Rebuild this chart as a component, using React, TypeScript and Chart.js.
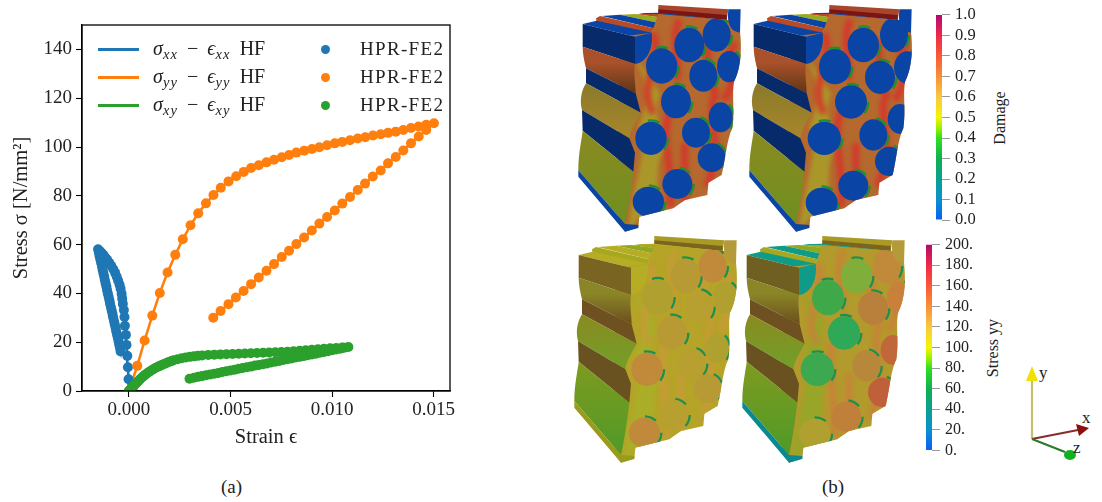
import React, { useEffect, useRef } from "react";
import { Chart, registerables } from "chart.js";

Chart.register(...registerables);

const SERIF = "'Liberation Serif', serif";

// ---- Stress / strain data ----
const blueStrain = [0, -0.00002, -0.00005, -0.00008, -0.00012, -0.00015, -0.0002, -0.00022, -0.00025, -0.0003, -0.00033, -0.00036, -0.00041, -0.00046, -0.00053, -0.0006, -0.00068, -0.00077, -0.00087, -0.00097, -0.00107, -0.00117, -0.00126, -0.00136, -0.00145, -0.00152, -0.00148, -0.00145, -0.00141, -0.00137, -0.00133, -0.0013, -0.00126, -0.00122, -0.00119, -0.00115, -0.00111, -0.00108, -0.00104, -0.001, -0.00096, -0.00093, -0.00089, -0.00085, -0.00081, -0.00078, -0.00074, -0.0007, -0.00066, -0.00063, -0.00059, -0.00055, -0.00051, -0.00048, -0.00044, -0.00041];
const blueStress = [0, 4.8, 9.7, 14.4, 18.9, 23, 26.7, 30.3, 33.2, 35.7, 37.8, 39.8, 41.9, 43.5, 45.2, 46.8, 48.4, 49.9, 51.3, 52.5, 53.8, 54.8, 55.8, 56.7, 57.5, 58.1, 56.8, 55.4, 54, 52.6, 51.2, 49.8, 48.4, 47, 45.6, 44.2, 42.8, 41.4, 40, 38.6, 37.2, 35.8, 34.4, 33, 31.6, 30.2, 28.8, 27.4, 26, 24.6, 23.2, 21.8, 20.4, 19, 17.6, 16.2];

const orangeStrain = [0, 0.00041, 0.00077, 0.00115, 0.00152, 0.0019, 0.00228, 0.00265, 0.00303, 0.00341, 0.00379, 0.00416, 0.00452, 0.0049, 0.00528, 0.00565, 0.00601, 0.00639, 0.00677, 0.00714, 0.00752, 0.00788, 0.00824, 0.00863, 0.00901, 0.00937, 0.00975, 0.01013, 0.0105, 0.01088, 0.01126, 0.01163, 0.01201, 0.01239, 0.01275, 0.01313, 0.0135, 0.01388, 0.01425, 0.01463, 0.01501, 0.01463, 0.01426, 0.01388, 0.0135, 0.01313, 0.01275, 0.01239, 0.012, 0.01162, 0.01126, 0.01088, 0.0105, 0.01013, 0.00975, 0.00937, 0.009, 0.00862, 0.00824, 0.00788, 0.00752, 0.00714, 0.00677, 0.00639, 0.00601, 0.00564, 0.00526, 0.0049, 0.00451, 0.00415];
const orangeStress = [0, 10.3, 20.7, 30.9, 40.2, 48.6, 55.8, 62.2, 67.9, 72.8, 76.9, 80.3, 83.3, 85.9, 88, 89.8, 91.4, 92.5, 93.7, 94.8, 95.8, 96.7, 97.7, 98.5, 99.2, 99.9, 100.7, 101.5, 102.1, 102.8, 103.5, 104, 104.7, 105.2, 105.8, 106.3, 107, 107.8, 108.4, 109.1, 109.7, 107, 104.3, 101.5, 98.6, 95.9, 93.3, 90.4, 87.9, 85, 82.4, 79.5, 76.8, 74, 71.3, 68.6, 65.8, 62.9, 60.2, 57.5, 54.9, 52, 49.3, 46.5, 43.8, 41, 38.3, 35.6, 32.8, 30];

const greenStrain = [0, 0.00008, 0.00016, 0.00024, 0.00032, 0.0004, 0.00048, 0.00056, 0.00064, 0.00072, 0.0008, 0.0009, 0.001, 0.0011, 0.0012, 0.0013, 0.0014, 0.0015, 0.0016, 0.0017, 0.0018, 0.0019, 0.002, 0.0021, 0.0022, 0.0024, 0.0026, 0.0028, 0.003, 0.0032, 0.0034, 0.0036, 0.0039, 0.0042, 0.0045, 0.0048, 0.0051, 0.0054, 0.0057, 0.006, 0.0063, 0.0066, 0.0069, 0.0072, 0.0075, 0.0078, 0.0081, 0.0084, 0.0087, 0.009, 0.0093, 0.0096, 0.0099, 0.0102, 0.0105, 0.0108, 0.0106, 0.0104, 0.0102, 0.01, 0.0098, 0.0096, 0.0094, 0.0092, 0.009, 0.0088, 0.0086, 0.0084, 0.0082, 0.008, 0.0078, 0.0076, 0.0074, 0.0072, 0.007, 0.0068, 0.0066, 0.0064, 0.0062, 0.006, 0.0058, 0.0056, 0.0054, 0.0052, 0.005, 0.0048, 0.0046, 0.0044, 0.0042, 0.004, 0.0038, 0.0036, 0.0034, 0.0032, 0.00298];
const greenStress = [0, 0.7, 1.4, 2.1, 2.9, 3.5, 4.2, 4.9, 5.5, 6.1, 6.7, 7.3, 7.9, 8.4, 8.9, 9.4, 9.8, 10.2, 10.6, 11, 11.3, 11.7, 12, 12.3, 12.6, 13, 13.4, 13.7, 14, 14.2, 14.4, 14.6, 14.8, 14.9, 15, 15.1, 15.2, 15.3, 15.4, 15.5, 15.6, 15.7, 15.8, 15.9, 16, 16.1, 16.3, 16.5, 16.7, 16.9, 17.1, 17.3, 17.5, 17.6, 17.8, 18, 17.7, 17.3, 17, 16.7, 16.3, 16, 15.7, 15.3, 15, 14.7, 14.3, 14, 13.7, 13.3, 13, 12.7, 12.3, 12, 11.7, 11.3, 11, 10.7, 10.4, 10, 9.7, 9.4, 9.1, 8.7, 8.4, 8.1, 7.8, 7.4, 7.1, 6.8, 6.5, 6.1, 5.8, 5.4, 5];

const strainTicks = [0, 0.005, 0.01, 0.015];
const seriesColors = ["#1f77b4", "#ff7f0e", "#2ca02c"];
const seriesSubscripts = ["xx", "yy", "xy"];
const markerLabel = "HPR-FE2";

// ---- Colour bars ----
const damageRange = [0, 1];
const damageStep = 0.1;
const stressRange = [0, 200];
const stressStep = 20;
const rampStops = [0, 0.1, 0.2, 0.3, 0.4, 0.45, 0.5, 0.6, 0.7, 0.8, 0.9, 1];
const rampColors = ["#0a5ff5", "#0a90d0", "#0aa090", "#10b050", "#30e020", "#a0f000", "#f5f500", "#f8c840", "#f89038", "#f85838", "#f02848", "#b00a70"];

const zip = (xs: number[], ys: number[]) => xs.map((x, i) => ({ x, y: ys[i] }));

const frame = {
  id: "frame",
  afterDraw(chart: any) {
    const { ctx, chartArea: a } = chart;
    ctx.save();
    ctx.strokeStyle = "#000";
    ctx.lineWidth = 1.3;
    ctx.strokeRect(a.left, a.top, a.right - a.left, a.bottom - a.top);
    ctx.restore();
  },
};

function StressChart() {
  const ref = useRef<HTMLCanvasElement>(null);
  useEffect(() => {
    const sets = [
      [blueStrain, blueStress],
      [orangeStrain, orangeStress],
      [greenStrain, greenStress],
    ];
    const lines = sets.map(([xs, ys], i) => ({
      label: `HF ${seriesSubscripts[i]}`,
      data: zip(xs, ys),
      showLine: true,
      borderColor: seriesColors[i],
      backgroundColor: seriesColors[i],
      borderWidth: 2.6,
      pointRadius: 0,
      order: 6 - i,
    }));
    const markers = sets.map(([xs, ys], i) => ({
      label: markerLabel,
      data: zip(xs, ys),
      showLine: false,
      backgroundColor: seriesColors[i],
      borderWidth: 0,
      pointRadius: 5,
      order: 3 - i,
    }));
    const chart = new Chart(ref.current!, {
      type: "scatter",
      data: { datasets: [...lines, ...markers] as any },
      plugins: [frame],
      options: {
        animation: false,
        responsive: false,
        layout: { padding: { top: 25, right: 20, left: 0, bottom: 0 } },
        plugins: { legend: { display: false }, tooltip: { enabled: false } },
        scales: {
          x: {
            type: "linear",
            min: -0.00231,
            max: 0.0158,
            afterFit: (s: any) => { s.height = 59; },
            afterBuildTicks: (s: any) => { s.ticks = strainTicks.map((value) => ({ value })); },
            grid: { drawOnChartArea: false, tickLength: 6, color: "#000", tickWidth: 1.1 },
            border: { color: "#000", width: 1.3 },
            ticks: { color: "#222", font: { family: SERIF, size: 19 }, padding: 2, maxRotation: 0, callback: (v: any) => Number(v).toFixed(3) },
            title: { display: true, text: "Strain ϵ", color: "#222", font: { family: SERIF, size: 20.5 }, padding: { top: 0, bottom: 0 } },
          },
          y: {
            type: "linear",
            min: 0,
            max: 150,
            afterFit: (s: any) => { s.width = 82; },
            afterBuildTicks: (s: any) => { s.ticks = [0, 20, 40, 60, 80, 100, 120, 140].map((value) => ({ value })); },
            grid: { drawOnChartArea: false, tickLength: 6, color: "#000", tickWidth: 1.1 },
            border: { color: "#000", width: 1.3 },
            ticks: { color: "#222", font: { family: SERIF, size: 19 }, padding: 4 },
            title: { display: true, text: "Stress σ [N/mm²]", color: "#222", font: { family: SERIF, size: 20.5 }, padding: { top: 9, bottom: 9 } },
          },
        },
      },
    } as any);
    return () => chart.destroy();
  }, []);
  return <canvas ref={ref} width={470} height={450} style={{ position: "absolute", left: 0, top: 0 }} />;
}

function ColorBar(props: { left: number; top: number; range: number[]; step: number; fmt: (v: number) => string; size: number; name: string }) {
  const ref = useRef<HTMLCanvasElement>(null);
  useEffect(() => {
    const gradient = (ctx: any) => {
      const a = ctx.chart.chartArea;
      if (!a) return "#888";
      const g = ctx.chart.ctx.createLinearGradient(0, a.bottom, 0, a.top);
      rampStops.forEach((s, i) => g.addColorStop(s, rampColors[i]));
      return g;
    };
    const chart = new Chart(ref.current!, {
      type: "bar",
      data: {
        labels: [props.name],
        datasets: [{ data: [props.range], backgroundColor: gradient, borderWidth: 0, barPercentage: 1, categoryPercentage: 1, inflateAmount: 0 }],
      },
      options: {
        animation: false,
        responsive: false,
        layout: { padding: { top: 13, bottom: 11, left: 6, right: 0 } },
        plugins: { legend: { display: false }, tooltip: { enabled: false } },
        scales: {
          x: { display: false },
          y: {
            position: "right",
            min: props.range[0],
            max: props.range[1],
            afterFit: (s: any) => { s.width = 58; },
            ticks: { stepSize: props.step, autoSkip: false, color: "#222", font: { family: SERIF, size: props.size }, padding: 5, callback: (v: any) => props.fmt(Number(v)) },
            grid: { drawOnChartArea: false, tickLength: 8, color: "#999", tickWidth: 1 },
            border: { display: false },
          },
        },
      },
    } as any);
    return () => chart.destroy();
  }, []);
  return <canvas ref={ref} width={70} height={235} style={{ position: "absolute", left: props.left, top: props.top }} />;
}

// ---- Simplified illustration of the 3D renders (not chart data) ----
type Pal = { band1: string; band2a: string; band2b: string; band3: string; band4a: string; band4b: string; band5: string; band6a: string; band6b: string; base: string; topA: string; topB: string; topC: string; back1: string; back2: string; tip: string; face: string; patch: string; streak: string; edge: string; };

const topPal: Pal = { band1: "#072a6a", band2a: "#a8512a", band2b: "#5f3515", band3: "#072a6a", band4a: "#8a7a2a", band4b: "#a8862a", band5: "#072a6a", band6a: "#8a8a20", band6b: "#6f8f20", base: "#0a45a5", topA: "#0a45a5", topB: "#b84a25", topC: "#9aaa20", back1: "#a8452a", back2: "#7a1515", tip: "#0a45a5", face: "#b5692e", patch: "#a8a028", streak: "#d8302c", edge: "#1f8f30" };
const botPalA: Pal = { band1: "#7a6422", band2a: "#8a8526", band2b: "#6a4e1e", band3: "#6f5020", band4a: "#8a8a20", band4b: "#70a028", band5: "#6a5220", band6a: "#7f9a20", band6b: "#4f9a28", base: "#9a9a1c", topA: "#b5ad24", topB: "#a8a820", topC: "#8fa820", back1: "#a89a24", back2: "#7a6420", tip: "#b59a3a", face: "#b5a428", patch: "#a8b028", streak: "#c89a38", edge: "#1f8f50" };
const botPalB: Pal = { ...botPalA, band1: "#6f5f20", base: "#0a8a90", topA: "#109a88", face: "#b39a2c", streak: "#c9803a", patch: "#92a828" };

const faceStreaks = [
  "M250 100 C280 180 200 260 250 340",
  "M300 330 C270 420 310 480 300 620",
  "M345 430 C340 500 350 550 345 610",
  "M410 120 C420 180 400 230 440 280",
  "M440 280 C400 330 470 420 410 560",
  "M500 130 C450 160 520 230 460 300",
  "M330 60 C300 100 330 180 320 240",
];

type Circle = [number, number, number, number, string?];

const circlesA: Circle[] = [[275, 198, 47, 53], [358, 135, 45, 52], [440, 105, 42, 50], [400, 227, 42, 48], [478, 200, 37, 47], [318, 305, 45, 50], [243, 415, 47, 50], [378, 398, 42, 45], [452, 352, 36, 45], [425, 473, 42, 43], [235, 605, 47, 45], [322, 552, 45, 45]];
const circlesB: Circle[] = [[282, 200, 48, 53], [367, 135, 47, 52], [459, 105, 42, 52], [417, 232, 45, 50], [499, 202, 40, 48], [330, 306, 48, 50], [250, 415, 50, 50], [397, 405, 42, 47], [477, 357, 37, 45], [445, 484, 43, 44], [242, 608, 48, 45], [337, 557, 45, 45]];

const blue = "#0a45a5";
const withFill = (cs: Circle[], fills: string[]) => cs.map((c, i) => [c[0], c[1], c[2], c[3], fills[i % fills.length]] as Circle);

function Block({ id, dx, dy, p, circles }: { id: string; dx: number; dy: number; p: Pal; circles: Circle[] }) {
  const faceD = "M150 110 L245 98 L265 42 L475 60 L510 95 C515 140 515 200 492 245 C485 280 495 330 487 385 C470 420 468 470 455 525 L415 548 L412 585 L345 600 L310 625 L208 650 L205 682 L165 695 L140 640 Z";
  return (
    <g transform={`translate(${570 + dx} ${dy}) scale(${1 / 3})`}>
      <defs>
        <clipPath id={`clip-${id}`}><path d={faceD} /></clipPath>
        <linearGradient id={`b2-${id}`} x1="0" y1="0" x2="0" y2="1"><stop offset="0" stopColor={p.band2a} /><stop offset="0.35" stopColor={p.band2a} /><stop offset="1" stopColor={p.band2b} /></linearGradient>
        <linearGradient id={`b4-${id}`} x1="0" y1="0" x2="0" y2="1"><stop offset="0" stopColor={p.band4a} /><stop offset="1" stopColor={p.band4b} /></linearGradient>
        <linearGradient id={`b6-${id}`} x1="0" y1="0" x2="0" y2="1"><stop offset="0" stopColor={p.band6a} /><stop offset="1" stopColor={p.band6b} /></linearGradient>
      </defs>
      <path d="M265 15 L475 28 L470 60 L265 40Z" fill={p.back1} />
      <path d="M265 28 L470 45 L470 60 L265 40Z" fill={p.back2} />
      <path d="M205 40 L265 38 L470 60 L400 65Z" fill={p.topA} />
      <path d="M195 42 L265 42 L400 62 L385 68Z" fill={p.topB} />
      <path d="M150 44 L195 42 L385 66 L310 78Z" fill={p.topC} />
      <path d="M95 48 L150 44 L310 78 L250 85Z" fill={p.topA} />
      <path d="M78 55 L90 48 L250 85 L245 105 L80 68Z" fill={p.topB} />
      <path d="M38 72 L80 62 L245 98 L195 110Z" fill={p.topA} />
      <path d={faceD} fill={p.face} />
      <g clipPath={`url(#clip-${id})`}>
        <path d="M195 180 C240 250 240 300 205 380 C240 440 190 540 175 690 L260 600 C270 520 250 470 300 440 C260 380 250 330 270 280 C240 240 230 200 195 180Z" fill={p.patch} opacity={0.85} style={{ filter: "blur(6px)" }} />
        {faceStreaks.map((d, i) => (
          <path key={i} d={d} fill="none" stroke={p.streak} strokeWidth={22} opacity={0.8} style={{ filter: "blur(6px)" }} />
        ))}
        {circles.map((c, i) => (
          <ellipse key={i} cx={c[0]} cy={c[1]} rx={c[2] + 4} ry={c[3] + 4} fill="none" stroke={p.edge} strokeWidth={7} strokeDasharray="36 200" style={{ filter: "blur(2px)" }} />
        ))}
        {circles.map((c, i) => (
          <ellipse key={i} cx={c[0]} cy={c[1]} rx={c[2]} ry={c[3]} fill={c[4] ?? blue} />
        ))}
      </g>
      <path d="M475 28 L512 28 L510 98 C480 95 470 70 475 28Z" fill={p.tip} />
      <path d="M195 110 L245 98 C250 140 235 185 195 192Z" fill={p.topA} />
      <path d="M38 72 L195 110 L195 192 L38 140Z" fill={p.band1} />
      <path d="M38 140 L195 192 C190 220 197 250 197 280 L48 205 C42 180 38 160 38 140Z" fill={`url(#b2-${id})`} />
      <path d="M48 205 L197 280 L212 338 L48 250Z" fill={p.band3} />
      <path d="M48 250 L212 338 C200 360 180 390 178 415 L36 330 C28 300 35 270 48 250Z" fill={`url(#b4-${id})`} />
      <path d="M36 330 L178 415 L195 458 L190 515 L38 392Z" fill={p.band5} />
      <path d="M38 392 L190 515 C185 560 175 630 165 672 L25 510 C25 460 35 420 38 392Z" fill={`url(#b6-${id})`} />
      <path d="M25 510 L165 672 L205 675 L205 684 L165 695 L25 530Z" fill={p.base} />
    </g>
  );
}

function Renders() {
  return (
    <svg width={1102} height={502} style={{ position: "absolute", left: 0, top: 0 }}>
      <Block id="t1" dx={0} dy={0} p={topPal} circles={circlesA} />
      <Block id="t2" dx={171} dy={0} p={topPal} circles={circlesB} />
      <Block id="b1" dx={-4} dy={231} p={botPalA} circles={withFill(circlesA, ["#b0a030", "#b89a34", "#c08a3a", "#b8a030"])} />
      <Block id="b2" dx={164} dy={231} p={botPalB} circles={withFill(circlesB, ["#3fa848", "#7fae3a", "#c08a3a", "#b8803a", "#c8803a", "#2fa858", "#3ca850", "#b8883a", "#c0683a", "#c0603a", "#b0a030", "#c0803a"])} />
      {/* orientation triad */}
      <line x1={1032} y1={439} x2={1032} y2={375} stroke="#c8c068" strokeWidth={2.2} />
      <polygon points="1026,381 1038,381 1032,366" fill="#f2e000" />
      <line x1={1032} y1={439} x2={1078} y2={430} stroke="#8a2a2a" strokeWidth={2} />
      <polygon points="1076,424 1079,436 1089,428" fill="#8a1010" />
      <line x1={1032} y1={439} x2={1065} y2={452} stroke="#2a7a2a" strokeWidth={2} />
      <ellipse cx={1070} cy={455} rx={6} ry={5} fill="#10b020" />
      <text x={1039} y={378} fontFamily={SERIF} fontSize={17} fill="#222">y</text>
      <text x={1082} y={423} fontFamily={SERIF} fontSize={17} fill="#222">x</text>
      <text x={1073} y={453} fontFamily={SERIF} fontSize={17} fill="#222">z</text>
      <text transform="rotate(-90 1000 118)" x={1000} y={123} textAnchor="middle" fontFamily={SERIF} fontSize={16} fill="#222">Damage</text>
      <text transform="rotate(-90 993 348)" x={993} y={353} textAnchor="middle" fontFamily={SERIF} fontSize={16} fill="#222">Stress yy</text>
    </svg>
  );
}

const label = (left: number, top: number, extra: any = {}) => ({ position: "absolute" as const, left, top, fontFamily: SERIF, fontSize: 19, lineHeight: "22px", color: "#222", whiteSpace: "nowrap" as const, ...extra });
const sub = { fontSize: 14.5, fontStyle: "italic", position: "relative" as const, top: 4, letterSpacing: "0.08em" };

function Legend() {
  const rows = [49, 77, 105];
  return (
    <>
      {seriesSubscripts.map((s, i) => (
        <React.Fragment key={s}>
          <div style={{ position: "absolute", left: 98, top: rows[i] - 1.5, width: 41, height: 3, background: seriesColors[i] }} />
          <div style={label(153, rows[i] - 12, { fontSize: 20, wordSpacing: "4px" })}>
            <i>σ</i><span style={sub}>{s}</span> − <i>ϵ</i><span style={sub}>{s}</span> HF
          </div>
          <div style={{ position: "absolute", left: 320.5, top: rows[i] - 4.5, width: 9.5, height: 9.5, borderRadius: "50%", background: seriesColors[i] }} />
          <div style={label(360, rows[i] - 11, { letterSpacing: "0.07em" })}>{markerLabel}</div>
        </React.Fragment>
      ))}
    </>
  );
}

export default function App() {
  useEffect(() => { document.body.style.margin = "0"; }, []);
  return (
    <div style={{ position: "absolute", left: 0, top: 0, width: 1102, height: 502, overflow: "hidden", background: "#fff" }}>
      <Renders />
      <StressChart />
      <Legend />
      <div style={label(221, 476)}>(a)</div>
      <div style={label(822, 476)}>(b)</div>
      <ColorBar left={930} top={0} range={damageRange} step={damageStep} fmt={(v) => v.toFixed(1)} size={16.5} name="Damage" />
      <ColorBar left={920} top={230} range={stressRange} step={stressStep} fmt={(v) => `${v}.`} size={16} name="Stress yy" />
    </div>
  );
}
